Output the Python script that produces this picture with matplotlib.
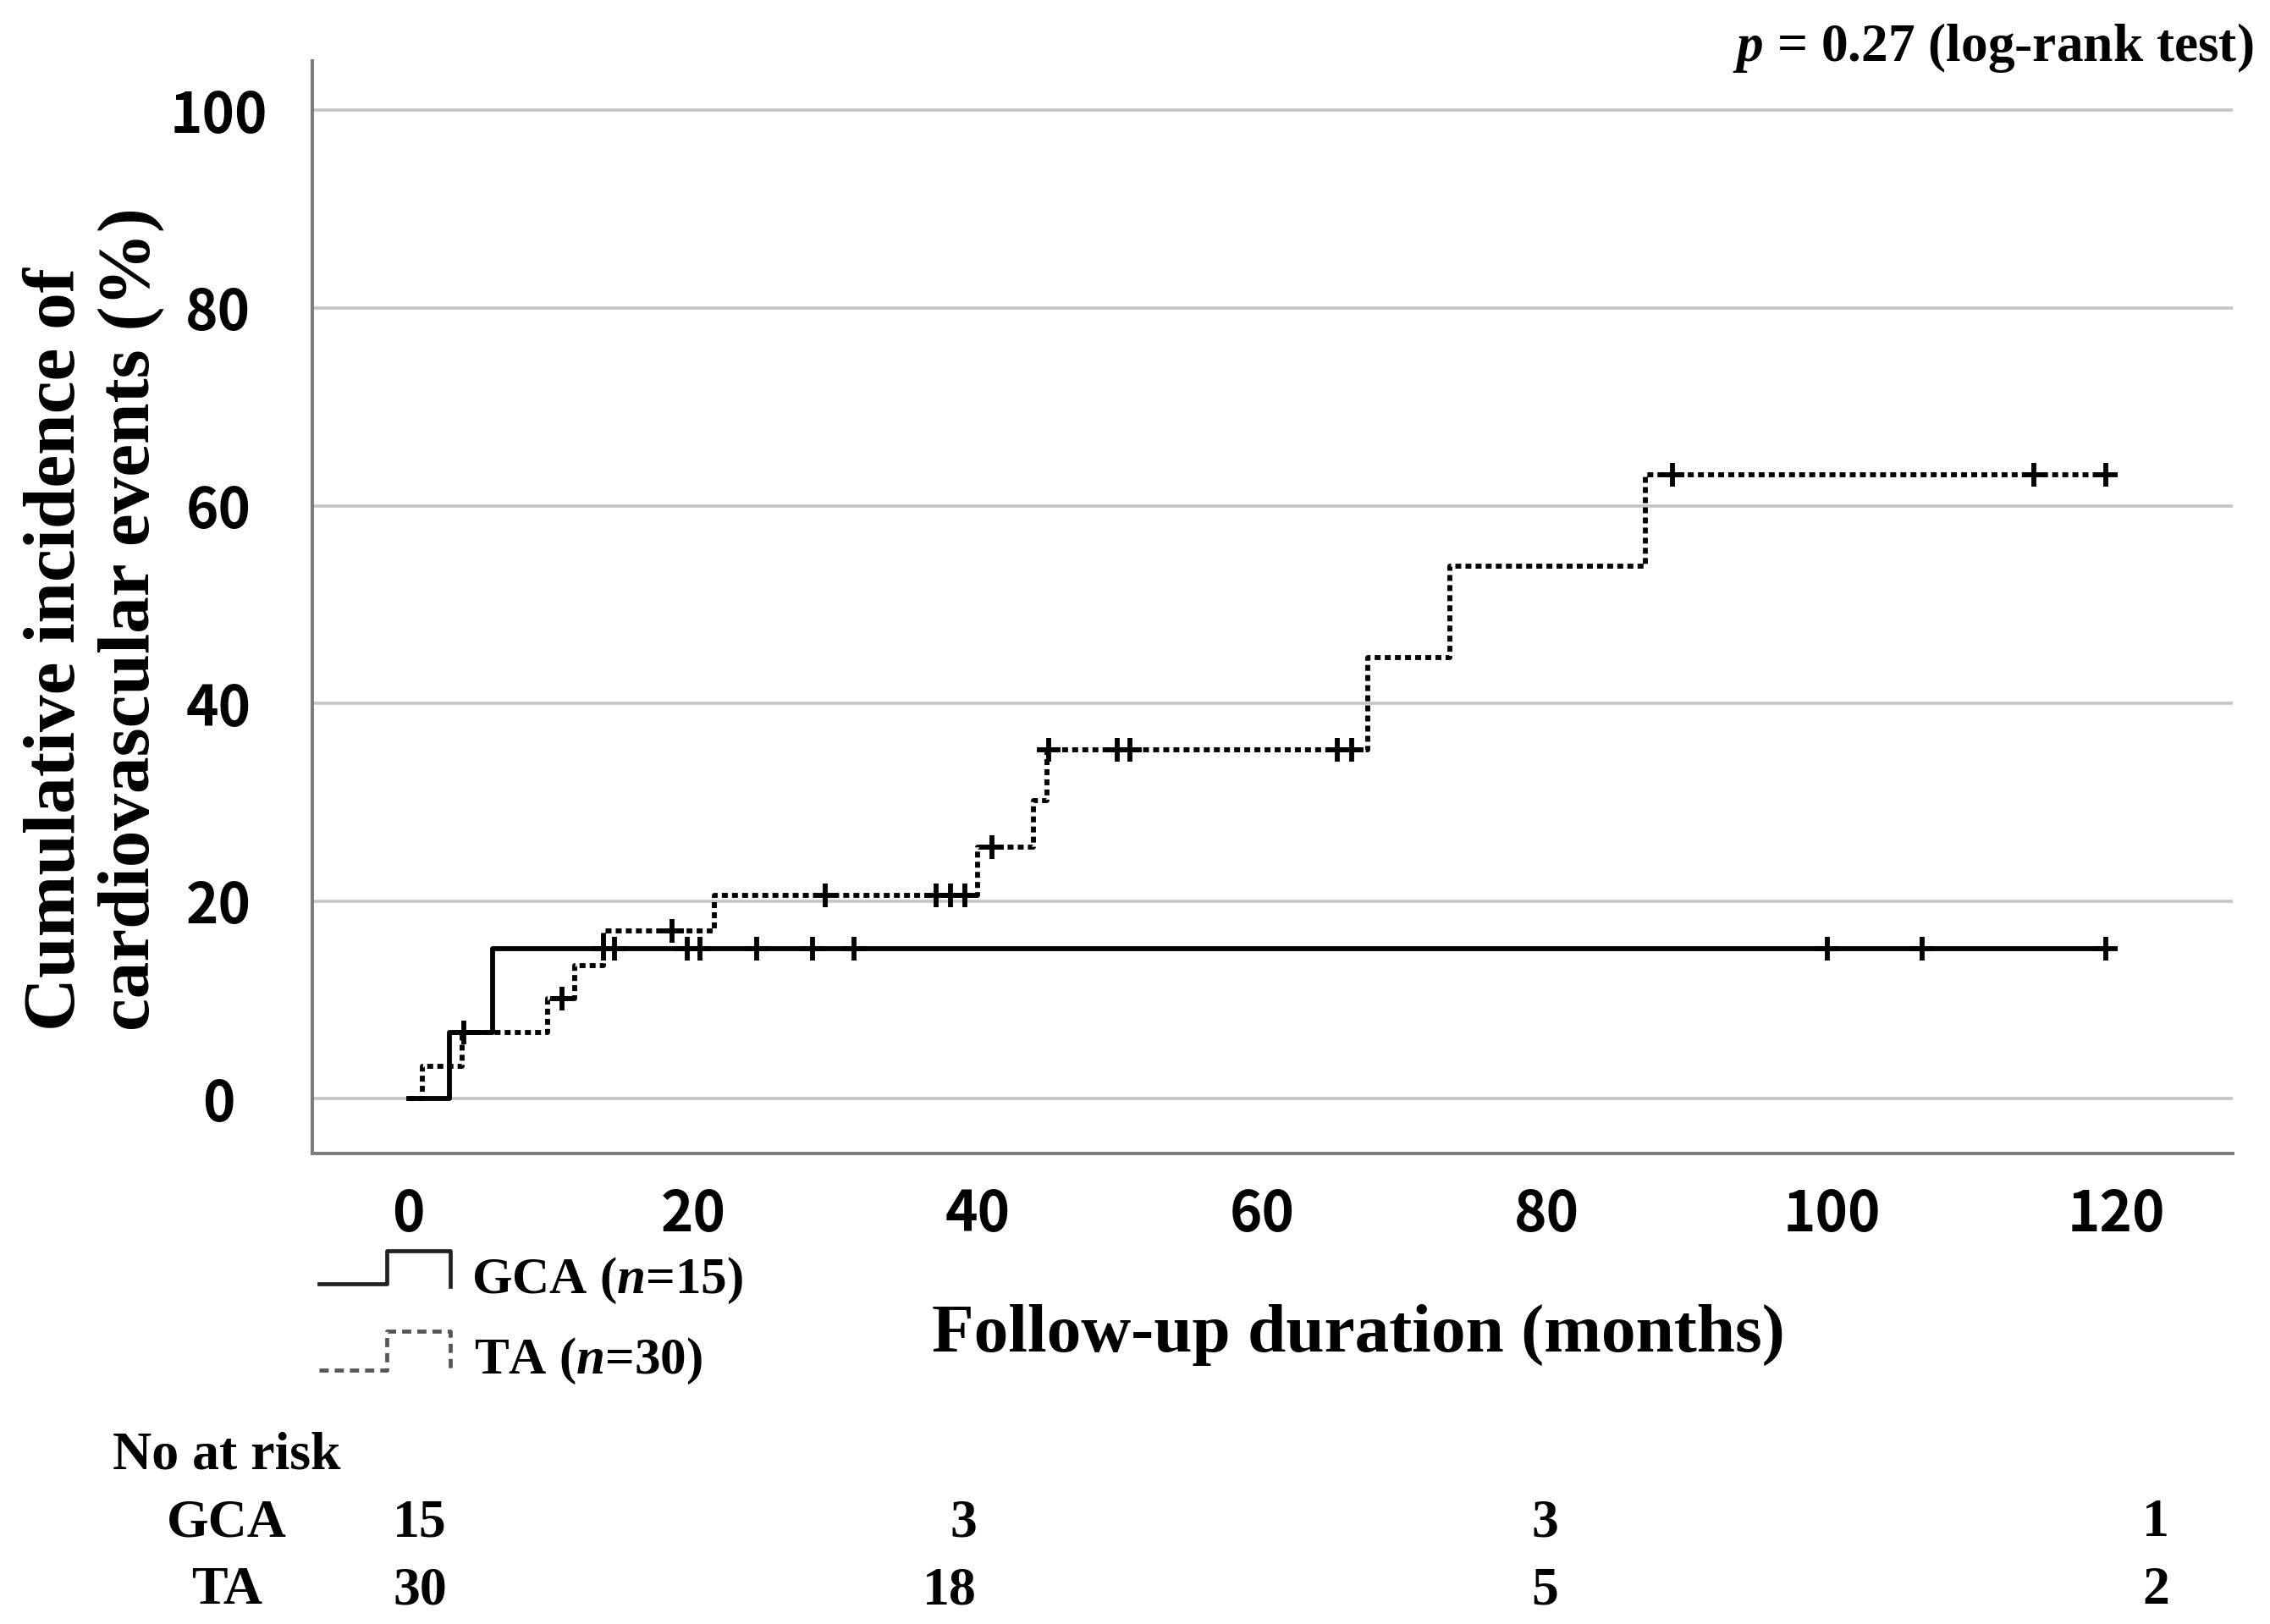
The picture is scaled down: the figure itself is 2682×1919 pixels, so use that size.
import matplotlib
matplotlib.use('Agg')
import matplotlib.pyplot as plt
from matplotlib.lines import Line2D

plt.rcParams['mathtext.fontset'] = 'custom'
plt.rcParams['mathtext.rm'] = 'Liberation Serif:bold'
plt.rcParams['mathtext.it'] = 'Liberation Serif:italic:bold'
plt.rcParams['mathtext.bf'] = 'Liberation Serif:bold'

serif = ['Liberation Serif', 'DejaVu Serif']
sans = ['Noto Sans CJK JP', 'DejaVu Sans']

## Step curves (months, cumulative incidence %)
gca_t = [0, 2.9, 5.9, 119.3]
gca_y = [0, 6.7, 15.2, 15.2]
gca_cens_t = [13.7, 14.5, 19.6, 20.5, 24.5, 28.4, 31.3, 99.7, 106.4, 119.3]
gca_cens_y = [15.2]*len(gca_cens_t)

ta_t = [0, 1.0, 3.8, 9.8, 11.7, 13.7, 21.5, 40.0, 43.9, 44.9, 67.4, 73.2, 86.9, 119.3]
ta_y = [0, 3.3, 6.7, 10.1, 13.5, 17.0, 20.6, 25.5, 30.2, 35.3, 44.6, 53.9, 63.1, 63.1]
ta_cens_t = [3.9, 10.8, 18.5, 29.3, 37.1, 38.1, 39.1, 41.0, 45.0, 49.8, 50.7,
             65.3, 66.3, 88.8, 114.2, 119.3]
ta_cens_y = [6.7, 10.1, 17.0, 20.6, 20.6, 20.6, 20.6, 25.5, 35.3, 35.3, 35.3,
             35.3, 35.3, 63.1, 63.1, 63.1]

x_ticks = [0, 20, 40, 60, 80, 100, 120]
y_ticks = [0, 20, 40, 60, 80, 100]

## Numbers at risk
risk_groups = ['GCA', 'TA']
risk_gca = ['15', '3', '3', '1']
risk_ta = ['30', '18', '5', '2']

fig = plt.figure(figsize=(13.41, 9.595), dpi=200)
ax = fig.add_axes([0.1376, 0.2897, 0.846, 0.6728])

ax.step(gca_t, gca_y, where='post', color='black', lw=2.1, zorder=3)
ax.step(ta_t, ta_y, where='post', color='black', lw=2.1, zorder=3,
        linestyle=(0, (1.2, 0.85)), dash_capstyle='butt')
ax.plot(gca_cens_t, gca_cens_y, '+', color='black', ms=10, mew=2.1, zorder=4)
ax.plot(ta_cens_t, ta_cens_y, '+', color='black', ms=10, mew=2.1, zorder=4)

ax.set_xlim(-6.75, 128.2)
ax.set_ylim(-5.54, 105.0)
ax.set_xticks(x_ticks)
ax.set_yticks(y_ticks)
ax.set_xticklabels([str(v) for v in x_ticks], family=sans, fontweight='bold', fontsize=23.5)
ax.set_yticklabels([str(v) for v in y_ticks], family=sans, fontweight='bold', fontsize=23.5,
                   ha='center')
ax.tick_params(axis='x', length=0, pad=14)
ax.tick_params(axis='y', length=0, pad=40)
ax.grid(axis='y', color='#c4c4c4', lw=1.3)
ax.set_axisbelow(True)
for s in ['top', 'right']:
    ax.spines[s].set_visible(False)
for s in ['left', 'bottom']:
    ax.spines[s].set_color('#7a7a7a')
    ax.spines[s].set_linewidth(1.4)

# axis titles
fig.text(0.0415, 0.3653, 'Cumulative incidence of\ncardiovascular events (%)',
         rotation=90, ha='center', va='bottom', multialignment='left',
         family=serif, fontweight='bold', fontsize=31.4, linespacing=1.14)
fig.text(0.5983, 0.1678, 'Follow-up duration (months)', ha='center', va='baseline',
         family=serif, fontweight='bold', fontsize=29.3)
fig.text(0.9929, 0.9625, r'$p$ = 0.27 (log-rank test)', ha='right', va='baseline',
         family=serif, fontweight='bold', fontsize=22.8)

# legend
W, H = 2682, 1919
def fx(px): return px / W
def fy(py): return 1 - py / H
fig.add_artist(Line2D([fx(377), fx(457), fx(457), fx(532), fx(532)],
                      [fy(1517), fy(1517), fy(1478), fy(1478), fy(1520)],
                      color='#222222', lw=1.7))
fig.add_artist(Line2D([fx(377), fx(457), fx(457), fx(532), fx(532)],
                      [fy(1619), fy(1619), fy(1573), fy(1573), fy(1620)],
                      color='#555555', lw=1.7, linestyle=(0, (2.3, 1.5))))
fig.text(fx(557), fy(1528), r'GCA ($n$=15)', ha='left', va='baseline',
         family=serif, fontweight='bold', fontsize=22)
fig.text(fx(560), fy(1623), r'TA ($n$=30)', ha='left', va='baseline',
         family=serif, fontweight='bold', fontsize=22)

# risk table
fig.text(fx(133), fy(1735), 'No at risk', ha='left', va='baseline',
         family=serif, fontweight='bold', fontsize=23)
col_x = [528, 1154, 1841, 2563]
for name, row, base in zip(risk_groups, [risk_gca, risk_ta], [1815, 1895]):
    fig.text(fx(268), fy(base), name, ha='center', va='baseline',
             family=serif, fontweight='bold', fontsize=23)
    for cx, val in zip(col_x, row):
        fig.text(fx(cx), fy(base), val, ha='right', va='baseline',
                 family=serif, fontweight='bold', fontsize=23)

fig.savefig('out.png', dpi=200)
